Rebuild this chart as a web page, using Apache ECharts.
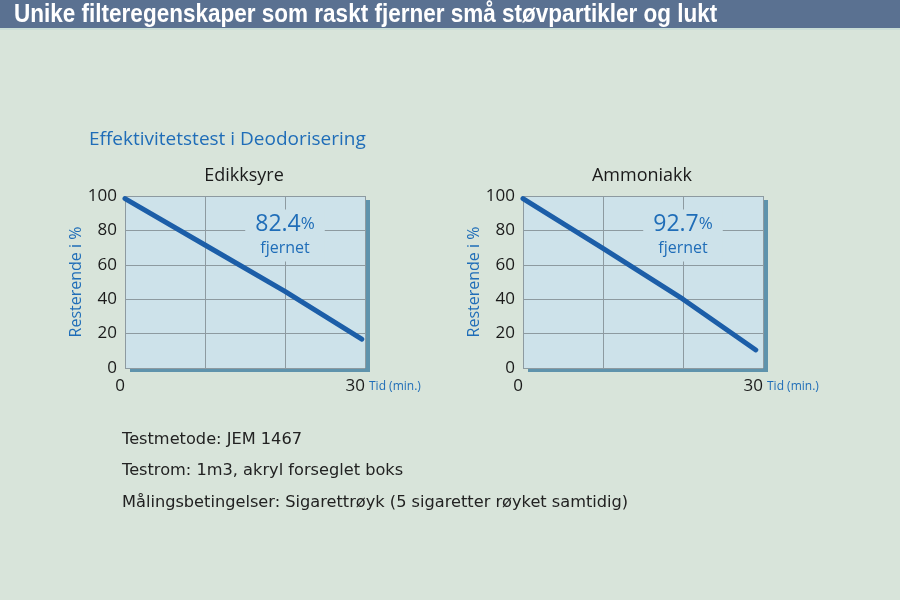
<!DOCTYPE html>
<html>
<head>
<meta charset="utf-8">
<script src="https://cdn.jsdelivr.net/npm/echarts@6/dist/echarts.min.js"></script>
<style>
html,body{margin:0;padding:0;background:#d8e4da;}
#c{width:900px;height:600px;}
</style>
</head>
<body>
<div id="c"></div>
<script>
// ---- data ----
var headerTitle = 'Unike filteregenskaper som raskt fjerner små støvpartikler og lukt';
var sectionTitle = 'Effektivitetstest i Deodorisering';
var chartNames = ['Edikksyre', 'Ammoniakk'];
var timeMin = [0, 10, 20, 29.6];
var timeMin2 = [0, 10, 20, 29.1];
var edikksyre = [98.5, 71.5, 44.5, 16.8];
var ammoniakk = [98.5, 69.5, 40, 10.5];
var removedPct = ['82.4', '92.7'];
var xTickLabels = [0, 30];
var notes = [
  'Testmetode: JEM 1467',
  'Testrom: 1m3, akryl forseglet boks',
  'Målingsbetingelser: Sigarettrøyk (5 sigaretter røyket samtidig)'
];

var BLUE = '#1f6db8';
var LINE = '#1c5ea8';
var PLOTBG = '#cde2ea';
var FONT = '"Open Sans", "Noto Sans", sans-serif';
var NOTEFONT = '16.2px "DejaVu Sans", sans-serif';

function pairs(xs, ys){ return xs.map(function(x,i){ return [x, ys[i]]; }); }

var grids = [
  {left:125, top:196, width:240, height:172},
  {left:523, top:196, width:240, height:172}
];
grids.forEach(function(g){
  g.show = true; g.backgroundColor = PLOTBG; g.borderWidth = 0; g.borderColor = 'transparent';
  g.shadowColor = '#5f93ac'; g.shadowBlur = 0; g.shadowOffsetX = 5; g.shadowOffsetY = 4;
});

function xAxis(i){
  return {
    gridIndex:i, type:'value', min:0, max:30, interval:10,
    axisLine:{show:false}, axisTick:{show:false},
    splitLine:{show:true, lineStyle:{color:'#8d9aa0', width:1}},
    axisLabel:{
      align:'right', margin:10, fontSize:17, color:'#1a1a1a', fontFamily:FONT,
      formatter:function(v){ return xTickLabels.indexOf(v) >= 0 ? String(v) : ''; }
    },
    name:'Tid (min.)', nameLocation:'end', nameGap:4,
    nameTextStyle:{color:BLUE, fontSize:12, fontFamily:FONT, verticalAlign:'top', padding:[13,0,0,0]}
  };
}
function yAxis(i){
  return {
    gridIndex:i, type:'value', min:0, max:100, interval:20,
    axisLine:{show:false}, axisTick:{show:false},
    splitLine:{show:true, lineStyle:{color:'#8d9aa0', width:1}},
    axisLabel:{margin:8, fontSize:17, color:'#1a1a1a', fontFamily:FONT},
    name:'Resterende i %', nameLocation:'middle', nameGap:41,
    nameTextStyle:{color:BLUE, fontSize:16, fontFamily:FONT}
  };
}

function lineSeries(i, data, pct){
  return {
    type:'line', xAxisIndex:i, yAxisIndex:i, data:data, symbol:'none',
    lineStyle:{color:LINE, width:5, cap:'round'},
    animation:false, z:5,
    markPoint:{
      symbol:'rect', symbolSize:0, silent:true, z:3,
      data:[{coord:[20, 77]}],
      label:{
        show:true, position:'inside',
        formatter:'{a|' + pct + '}{b|%}\n{c|fjernet}',
        backgroundColor:PLOTBG, padding:[2,10,2,10],
        rich:{
          a:{fontSize:23, color:BLUE, fontFamily:FONT, lineHeight:26},
          b:{fontSize:17, color:BLUE, fontFamily:FONT, lineHeight:26},
          c:{fontSize:16, color:BLUE, fontFamily:FONT, lineHeight:22, align:'center'}
        },
        align:'center'
      }
    }
  };
}

var chart = echarts.init(document.getElementById('c'), null, {renderer:'canvas'});
chart.setOption({
  backgroundColor:'#d8e4da',
  animation:false,
  title:[
    {text:sectionTitle, left:84, top:125, textStyle:{color:BLUE, fontSize:19, fontWeight:'normal', fontFamily:FONT}},
    {text:chartNames[0], left:239, top:162, textAlign:'center', textStyle:{color:'#1a1a1a', fontSize:18, fontWeight:'normal', fontFamily:FONT}},
    {text:chartNames[1], left:637, top:162, textAlign:'center', textStyle:{color:'#1a1a1a', fontSize:18, fontWeight:'normal', fontFamily:FONT}}
  ],
  graphic:[
    {type:'rect', shape:{x:0, y:0, width:900, height:28}, style:{fill:'#5a7191'}},
    {type:'rect', shape:{x:0, y:28, width:900, height:2}, style:{fill:'#c9ddd6'}},
    {type:'text', x:14, y:15, scaleX:0.866, style:{text:headerTitle, fill:'#ffffff', font:'bold 26px "Liberation Sans Narrow", sans-serif', textVerticalAlign:'middle'}},
    {type:'text', x:122, y:440, style:{text:notes[0], fill:'#222222', font:NOTEFONT, textVerticalAlign:'middle'}},
    {type:'text', x:122, y:471, style:{text:notes[1], fill:'#222222', font:NOTEFONT, textVerticalAlign:'middle'}},
    {type:'text', x:122, y:503, style:{text:notes[2], fill:'#222222', font:NOTEFONT, textVerticalAlign:'middle'}}
  ],
  grid:grids,
  xAxis:[xAxis(0), xAxis(1)],
  yAxis:[yAxis(0), yAxis(1)],
  series:[
    lineSeries(0, pairs(timeMin, edikksyre), removedPct[0]),
    lineSeries(1, pairs(timeMin2, ammoniakk), removedPct[1])
  ]
});
</script>
</body>
</html>
